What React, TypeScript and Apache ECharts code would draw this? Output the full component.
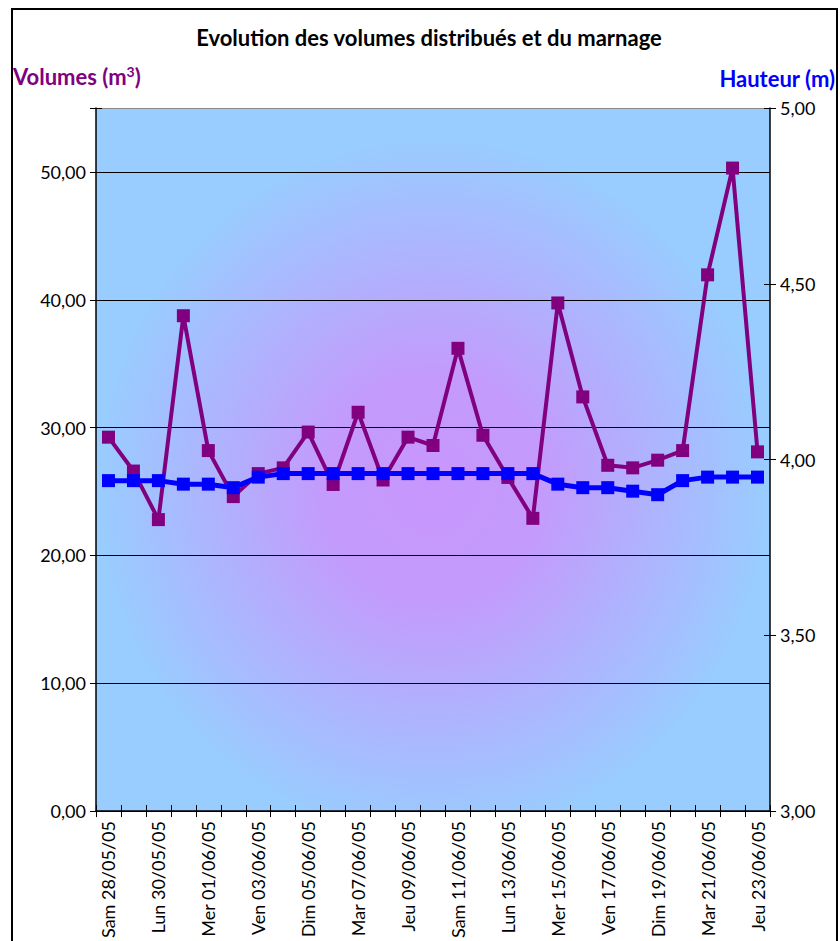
import React, { useEffect, useRef } from "react";
import * as echarts from "echarts";

const categories = [
  "Sam 28/05/05", "Dim 29/05/05", "Lun 30/05/05", "Mar 31/05/05", "Mer 01/06/05",
  "Jeu 02/06/05", "Ven 03/06/05", "Sam 04/06/05", "Dim 05/06/05", "Lun 06/06/05",
  "Mar 07/06/05", "Mer 08/06/05", "Jeu 09/06/05", "Ven 10/06/05", "Sam 11/06/05",
  "Dim 12/06/05", "Lun 13/06/05", "Mar 14/06/05", "Mer 15/06/05", "Jeu 16/06/05",
  "Ven 17/06/05", "Sam 18/06/05", "Dim 19/06/05", "Lun 20/06/05", "Mar 21/06/05",
  "Mer 22/06/05", "Jeu 23/06/05",
];

const volumes = [
  29.25, 26.6, 22.8, 38.75, 28.2, 24.6, 26.4, 26.85, 29.65, 25.55,
  31.2, 25.9, 29.25, 28.6, 36.2, 29.4, 26.1, 22.9, 39.75, 32.4,
  27.05, 26.85, 27.45, 28.2, 41.95, 50.3, 28.1,
];

const hauteurs = [
  3.94, 3.94, 3.94, 3.93, 3.93, 3.92, 3.95, 3.96, 3.96, 3.96,
  3.96, 3.96, 3.96, 3.96, 3.96, 3.96, 3.96, 3.96, 3.93, 3.92,
  3.92, 3.91, 3.90, 3.94, 3.95, 3.95, 3.95,
];

const FONT = "Lato";

const fmt = (v: number) => v.toFixed(2).replace(".", ",");

export default function App() {
  const ref = useRef<HTMLDivElement>(null);

  useEffect(() => {
    document.body.style.margin = "0";
    const chart = echarts.init(ref.current!, null, { renderer: "svg" });
    const commonLabel = { fontFamily: FONT, fontSize: 18, color: "#000" };
    chart.setOption({
      animation: false,
      backgroundColor: "#fff",
      textStyle: { fontFamily: FONT },
      graphic: [
        {
          type: "rect",
          shape: { x: 12, y: 9, width: 825, height: 1000 },
          style: { fill: "none", stroke: "#000", lineWidth: 2 },
          z: 100,
        },
        {
          type: "text",
          x: 429,
          y: 37,
          style: {
            text: "Evolution des volumes distribués et du marnage",
            fontFamily: FONT,
            fontWeight: "bold",
            fontSize: 22,
            fill: "#000",
            align: "center",
            verticalAlign: "middle",
          },
        },
        {
          type: "text",
          x: 13,
          y: 76,
          style: {
            text: "Volumes (m{s|3})",
            fontFamily: FONT,
            fontWeight: "bold",
            fontSize: 22,
            fill: "#800080",
            align: "left",
            verticalAlign: "middle",
            rich: {
              s: {
                fontFamily: FONT,
                fontWeight: "bold",
                fontSize: 14,
                fill: "#800080",
                verticalAlign: "top",
                padding: [0, 0, 10, 0],
              },
            },
          },
        },
        {
          type: "text",
          x: 835,
          y: 78,
          style: {
            text: "Hauteur (m)",
            fontFamily: FONT,
            fontWeight: "bold",
            fontSize: 22,
            fill: "#0000ff",
            align: "right",
            verticalAlign: "middle",
          },
        },
      ],
      grid: {
        left: 96,
        right: 70,
        top: 108,
        bottom: 129,
        show: true,
        borderWidth: 0,
        backgroundColor: {
          type: "radial",
          x: 0.5,
          y: 0.54,
          r: 0.55,
          colorStops: [
            { offset: 0, color: "#c896fc" },
            { offset: 0.3, color: "#c39bfc" },
            { offset: 0.9, color: "#99ccff" },
            { offset: 1, color: "#99ccff" },
          ],
        },
      },
      xAxis: [
        {
          type: "category",
          data: categories,
          boundaryGap: true,
          axisLine: { show: true, lineStyle: { color: "#000", width: 1.5 } },
          axisTick: { show: true, interval: 0, length: 6, lineStyle: { color: "#000" } },
          axisLabel: { ...commonLabel, fontSize: 18, interval: 1, rotate: 90, margin: 10 },
          splitLine: { show: false },
        },
        {
          type: "category",
          data: categories,
          position: "bottom",
          boundaryGap: true,
          axisLine: { show: false },
          axisTick: { show: true, inside: true, interval: 0, length: 6, lineStyle: { color: "#000" } },
          axisLabel: { show: false },
          splitLine: { show: false },
        },
      ],
      yAxis: [
        {
          type: "value",
          min: 0,
          max: 55,
          interval: 10,
          position: "left",
          axisLine: { show: true, lineStyle: { color: "#000", width: 1.5 } },
          axisTick: { show: true, length: 6, lineStyle: { color: "#000" } },
          axisLabel: {
            ...commonLabel,
            margin: 10,
            formatter: (v: number) => (v > 50 ? "" : fmt(v)),
          },
          splitLine: {
            show: true,
            lineStyle: {
              color: ["#000", "#000", "#000", "#000", "#000", "#000", "#888"],
              width: 1,
            },
          },
        },
        {
          type: "value",
          min: 3,
          max: 5,
          interval: 0.5,
          position: "right",
          axisLine: { show: true, lineStyle: { color: "#000", width: 1.5 } },
          axisTick: { show: true, length: 6, lineStyle: { color: "#000" } },
          axisLabel: { ...commonLabel, margin: 10, formatter: (v: number) => fmt(v) },
          splitLine: { show: false },
        },
        {
          type: "value",
          min: 0,
          max: 55,
          interval: 10,
          position: "left",
          axisLine: { show: false },
          axisTick: { show: true, inside: true, length: 6, lineStyle: { color: "#000" } },
          axisLabel: { show: false },
          splitLine: { show: false },
        },
        {
          type: "value",
          min: 3,
          max: 5,
          interval: 0.5,
          position: "right",
          axisLine: { show: false },
          axisTick: { show: true, inside: true, length: 6, lineStyle: { color: "#000" } },
          axisLabel: { show: false },
          splitLine: { show: false },
        },
      ],
      series: [
        {
          name: "Volumes",
          type: "line",
          data: volumes,
          xAxisIndex: 0,
          yAxisIndex: 0,
          symbol: "rect",
          symbolSize: 13,
          lineStyle: { color: "#800080", width: 4 },
          itemStyle: { color: "#800080" },
          z: 3,
        },
        {
          name: "Hauteur",
          type: "line",
          data: hauteurs,
          xAxisIndex: 0,
          yAxisIndex: 1,
          symbol: "rect",
          symbolSize: 13,
          lineStyle: { color: "#0000ff", width: 5 },
          itemStyle: { color: "#0000ff" },
          z: 4,
        },
      ],
    });
    return () => chart.dispose();
  }, []);

  return <div ref={ref} style={{ width: 840, height: 941 }} />;
}
